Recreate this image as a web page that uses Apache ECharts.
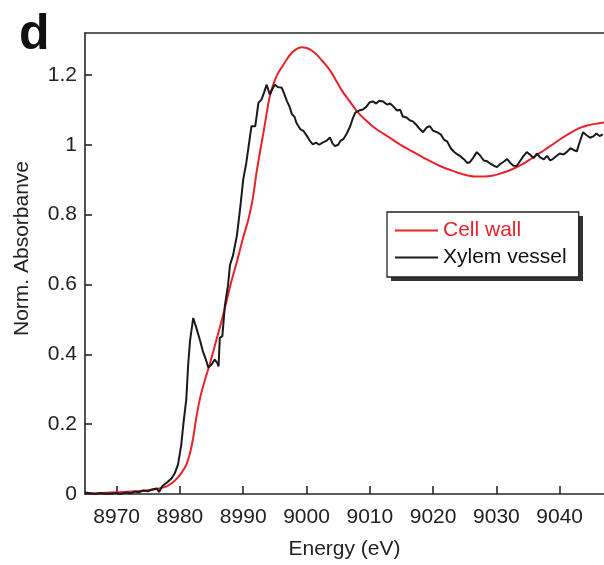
<!DOCTYPE html>
<html>
<head>
<meta charset="utf-8">
<script src="https://cdn.jsdelivr.net/npm/echarts@6/dist/echarts.min.js"></script>
<style>html,body{margin:0;padding:0;background:#fff}#c{width:604px;height:565px}</style>
</head>
<body>
<div id="c"></div>
<script>
const panelLabel = 'd';
const xTicks = [8970, 8980, 8990, 9000, 9010, 9020, 9030, 9040];
const yTicks = [0, 0.2, 0.4, 0.6, 0.8, 1, 1.2];
const seriesNames = ['Cell wall', 'Xylem vessel'];

const cellWallE = [8965,8967,8969,8971,8973,8975,8976.5,8977.9,8978.8,8979.5,8980.3,8981.1,8981.7,8982.1,8982.6,8983.2,8984,8984.7,8985.9,8987.1,8988,8989,8990,8990.8,8991.5,8992.1,8992.7,8993.2,8993.7,8994.2,8994.8,8995.5,8996.2,8996.9,8997.6,8998.4,8999.2,9000,9000.8,9001.6,9002.4,9003.2,9004,9004.8,9005.6,9006.8,9008,9009.5,9011,9013,9015,9017,9019,9021,9023,9025,9026.5,9028,9029.5,9031,9032.5,9034,9035.5,9037,9038.5,9040,9041.5,9043,9044.5,9046,9047];
const cellWallA = [0.003,0.002,0.004,0.006,0.008,0.011,0.015,0.022,0.032,0.044,0.062,0.088,0.125,0.162,0.22,0.276,0.33,0.371,0.45,0.532,0.6,0.665,0.735,0.785,0.845,0.92,0.985,1.035,1.09,1.139,1.175,1.205,1.225,1.245,1.262,1.274,1.279,1.277,1.27,1.258,1.242,1.225,1.205,1.18,1.155,1.125,1.095,1.068,1.045,1.022,0.998,0.978,0.958,0.94,0.926,0.914,0.909,0.909,0.912,0.92,0.93,0.943,0.96,0.978,0.996,1.015,1.032,1.047,1.056,1.061,1.064];

const xylemE = [8965,8965.8,8966.6,8967.4,8968.2,8969,8969.8,8970.6,8971.4,8972.2,8972.8,8973.5,8974.2,8974.9,8975.6,8976.3,8976.7,8977.2,8977.9,8978.7,8979.2,8979.7,8980.2,8980.6,8981,8981.3,8981.6,8982.1,8982.6,8983.2,8983.6,8984,8984.5,8985,8985.5,8985.9,8986.1,8986.3,8986.7,8987.1,8987.6,8987.9,8988.4,8989,8989.5,8990,8990.5,8991.3,8991.9,8992.4,8992.9,8993.3,8993.7,8994.2,8994.6,8995,8995.5,8996.1,8996.5,8996.9,8997.3,8997.7,8998.1,8998.4,8998.7,8999,8999.5,9000.1,9000.5,9001,9001.5,9002,9002.6,9003.2,9003.7,9004.1,9004.5,9005,9005.4,9005.8,9006.3,9006.9,9007.3,9007.7,9008.3,9008.9,9009.4,9010,9010.5,9011,9011.5,9012.1,9012.7,9013.2,9013.7,9014.3,9014.8,9015.2,9015.8,9016.3,9016.8,9017.3,9017.9,9018.4,9019,9019.5,9020,9020.6,9021.2,9021.7,9022.2,9022.8,9023.3,9023.8,9024.4,9024.9,9025.4,9025.8,9026.3,9026.9,9027.4,9028,9028.5,9029.1,9029.6,9030.1,9030.6,9031.2,9031.7,9032.2,9032.7,9033.2,9033.8,9034.3,9034.8,9035.4,9035.9,9036.4,9036.9,9037.5,9038,9038.5,9038.9,9039.5,9040,9040.6,9041.1,9041.7,9042.2,9042.7,9043.2,9043.7,9044.2,9044.8,9045.3,9045.8,9046.3,9046.8];
const xylemA = [0.004,0.002,0.0,0.003,0.001,0.001,0.003,0.0,0.004,0.002,0.007,0.005,0.01,0.008,0.013,0.016,0.006,0.022,0.032,0.045,0.06,0.085,0.14,0.21,0.27,0.37,0.44,0.504,0.475,0.438,0.41,0.39,0.362,0.371,0.385,0.375,0.365,0.447,0.452,0.54,0.598,0.655,0.684,0.74,0.816,0.9,0.95,1.053,1.053,1.12,1.13,1.15,1.172,1.144,1.16,1.172,1.165,1.163,1.145,1.125,1.11,1.087,1.08,1.063,1.066,1.045,1.04,1.024,1.012,1.001,1.006,1.0,1.007,1.012,1.021,1.004,0.996,1.0,1.012,1.016,1.03,1.053,1.075,1.092,1.098,1.101,1.108,1.122,1.124,1.118,1.126,1.124,1.115,1.118,1.11,1.098,1.1,1.081,1.078,1.07,1.067,1.058,1.045,1.036,1.05,1.053,1.04,1.036,1.03,1.015,1.01,0.99,0.98,0.973,0.966,0.958,0.948,0.95,0.962,0.979,0.97,0.955,0.953,0.945,0.94,0.936,0.945,0.952,0.959,0.948,0.94,0.939,0.955,0.968,0.979,0.97,0.962,0.975,0.964,0.958,0.968,0.955,0.959,0.968,0.975,0.972,0.979,0.99,0.985,0.981,1.01,1.036,1.028,1.02,1.024,1.032,1.025,1.03];

const FONT = '"Liberation Sans", Arial, sans-serif';
const AXIS = '#262626';
const RED = '#e8232a';
const BLACK = '#1a1a1a';

const chart = echarts.init(document.getElementById('c'), null, {renderer: 'canvas'});
const pairs = (xs, ys) => xs.map((x, i) => [x, ys[i]]);

chart.setOption({
  animation: false,
  backgroundColor: '#fff',
  grid: {left: 85, right: 0, top: 33, bottom: 68, containLabel: false},
  xAxis: [{
    type: 'value', min: 8965, max: 9047, position: 'bottom',
    name: 'Energy (eV)', nameLocation: 'middle', nameGap: 45,
    nameTextStyle: {fontFamily: FONT, fontSize: 21, color: '#222'},
    axisLine: {show: true, lineStyle: {color: AXIS, width: 1.6}},
    axisTick: {show: true, inside: true, length: 8, lineStyle: {color: AXIS, width: 1.6}, customValues: xTicks},
    axisLabel: {fontFamily: FONT, fontSize: 21, color: '#222', margin: 13, customValues: xTicks,
      formatter: v => String(v)},
    splitLine: {show: false}
  }, {
    type: 'value', min: 8965, max: 9047, position: 'top',
    axisLine: {show: true, lineStyle: {color: AXIS, width: 1.6}},
    axisTick: {show: false}, axisLabel: {show: false}, splitLine: {show: false}
  }],
  yAxis: {
    type: 'value', min: 0, max: 1.32,
    name: 'Norm. Absorbanve', nameLocation: 'middle', nameGap: 52, nameRotate: 90,
    nameTextStyle: {fontFamily: FONT, fontSize: 21, color: '#222', padding: [0, 0, 0, 30]},
    axisLine: {show: true, lineStyle: {color: AXIS, width: 1.6}},
    axisTick: {show: true, inside: true, length: 7, lineStyle: {color: AXIS, width: 1.6}, customValues: yTicks},
    axisLabel: {fontFamily: FONT, fontSize: 21, color: '#222', margin: 8, customValues: yTicks},
    splitLine: {show: false}
  },
  legend: {
    orient: 'vertical', left: 387, top: 212,
    padding: [8, 12, 9, 8], itemGap: 6, itemWidth: 43, itemHeight: 2, icon: 'rect',
    backgroundColor: '#fff', borderColor: '#222', borderWidth: 1.3,
    textStyle: {fontFamily: FONT, fontSize: 21, color: '#111'},
    data: [
      {name: seriesNames[0], textStyle: {color: RED}},
      {name: seriesNames[1], textStyle: {color: '#111'}}
    ]
  },
  graphic: [{
    type: 'rect', z: 3, silent: true,
    shape: {x: 391, y: 216, width: 192, height: 65},
    style: {fill: '#333'}
  }, {
    type: 'text', left: 19, top: 10,
    style: {text: panelLabel, font: 'bold 50px ' + FONT, fill: '#111'}
  }],
  series: [{
    name: seriesNames[0], type: 'line', data: pairs(cellWallE, cellWallA),
    showSymbol: false, symbol: 'none', smooth: 0.3, clip: true,
    lineStyle: {color: RED, width: 2}, itemStyle: {color: RED}, z: 2
  }, {
    name: seriesNames[1], type: 'line', data: pairs(xylemE, xylemA),
    showSymbol: false, symbol: 'none', clip: true,
    lineStyle: {color: BLACK, width: 2}, itemStyle: {color: BLACK}, z: 2
  }]
});
</script>
</body>
</html>
